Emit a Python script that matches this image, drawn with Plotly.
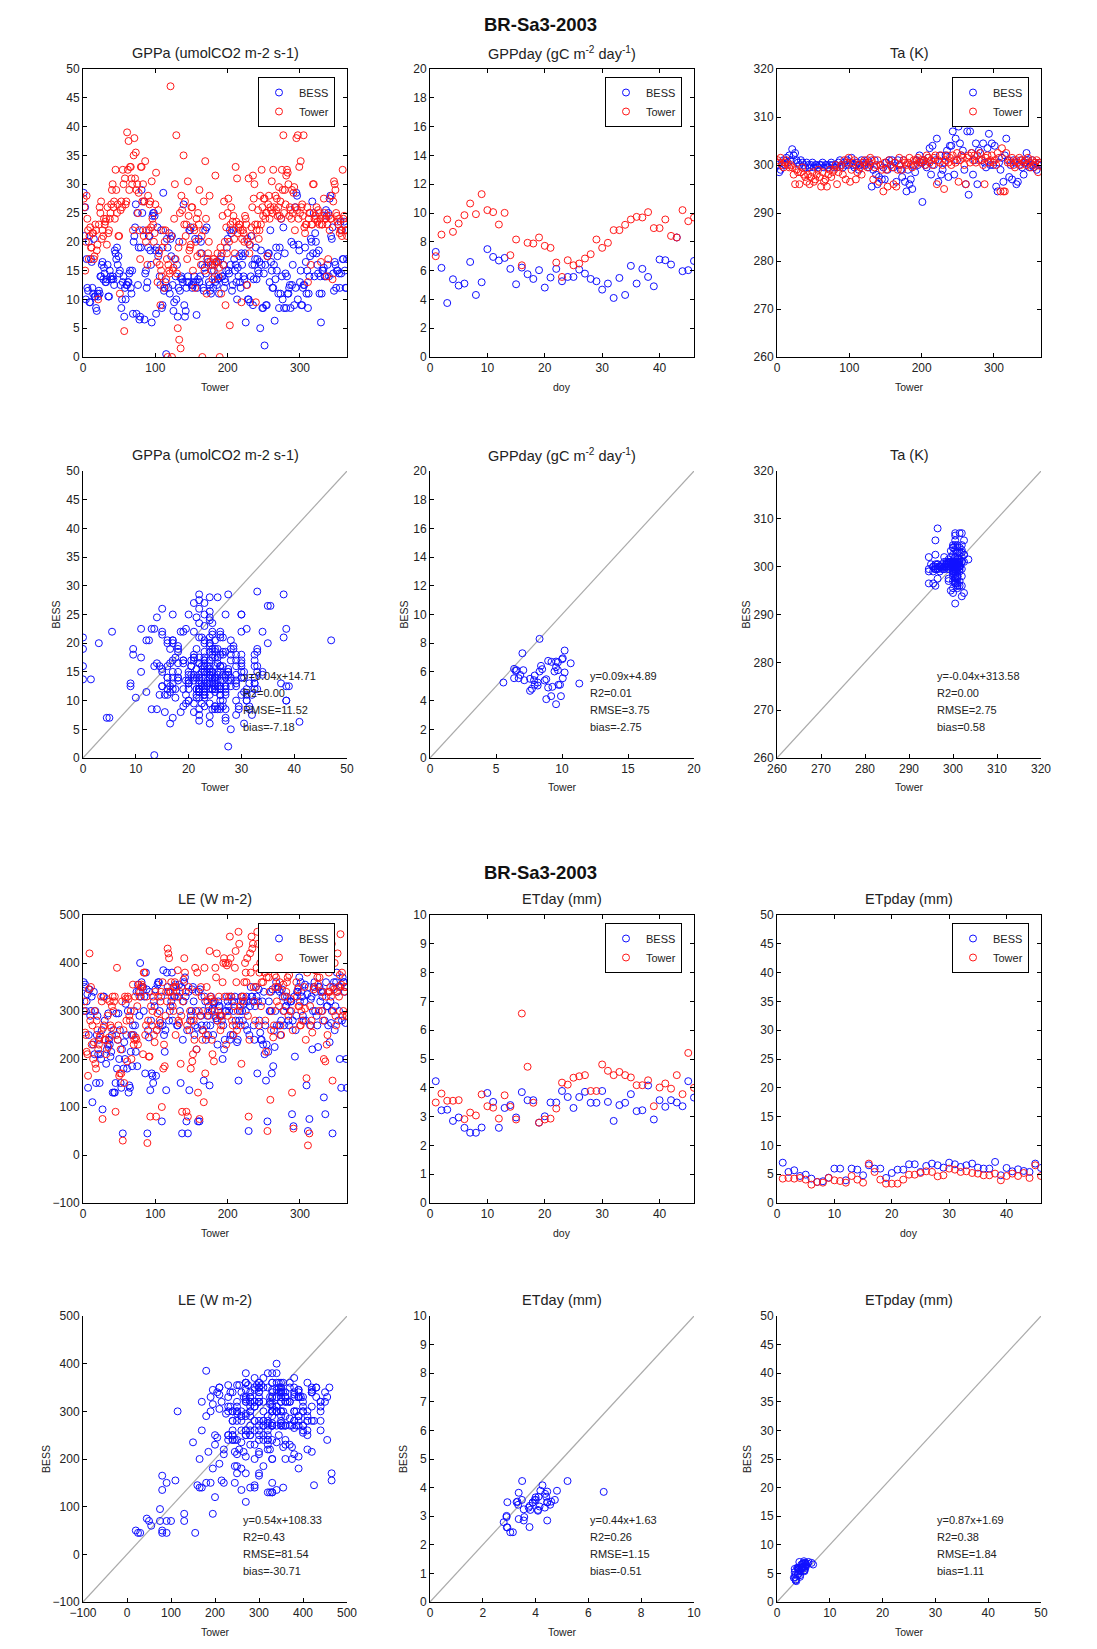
import plotly.graph_objects as go

W, H = 1097, 1649
OFF = 8  # page body margin in the browser

# ---------------- data ----------------
DAYS_ODD = list(range(1, 366, 2))
DAYS_ALL = list(range(1, 366))
DOY8 = list(range(1, 47))

GPPA_BESS_ODD = [
    28.5, 26, 17, 11.5, 9.5, 17, 12, 20.5, 10.5, 8,
    10.5, 11, 14, 16.5, 15.5, 13, 13.5, 10.5, 15, 13.5,
    14, 12.5, 18, 19, 17.5, 15, 8.5, 13, 7, 10,
    12.5, 13, 15, 11, 7.5, 21, 26.5, 25, 19, 7,
    29, 22, 6.5, 15, 13, 21, 18.5, 6, 25, 24.5,
    7.5, 22.5, 18.5, 12.5, 8.5, 28.5, 12, 0.5, 19, 21.5,
    20.5, 21, 8, 17, 10, 7, 20, 13.7, 13.5, 26.5,
    7, 12, 14, 22, 22.5, 12, 13, 20.5, 7.3, 13.5,
    13, 20, 16, 11.5, 22, 22.5, 16.5, 12.5, 11, 16,
    15, 13, 12.5, 16.5, 13.7, 17.5, 14, 12, 13, 19,
    15, 22, 21.5, 12.5, 17, 16, 10, 14, 13, 18,
    17.5, 13.5, 6, 20.5, 10, 9.5, 21, 9, 16, 19,
    17, 14.5, 5, 16, 8.5, 2, 9, 17.5, 18, 22,
    15, 12, 6.3, 19, 17.5, 8.5, 11, 14, 22.5, 18,
    8.5, 11, 12, 8.5, 12.5, 19.5, 26, 28.5, 10, 18.5,
    15, 9, 12.5, 19, 11, 8.5, 14, 20.5, 27, 25,
    21.5, 18, 14.5, 11, 6, 15, 15.5, 14, 24.5, 25,
    27.5, 21, 22.5, 11.5, 16, 15, 23, 12, 14.5, 17,
    23.5, 12, 17,
]
GPPA_BESS_EVEN = [
    21, 10, 12, 20, 9.5, 16.5, 11, 10.5, 8.5, 11,
    11.5, 14, 16, 13.5, 14.5, 13, 16, 10.5, 14, 13.5,
    13.5, 18.5, 17, 16, 14.5, 12.5, 10, 14, 12, 12.5,
    13, 14.5, 12, 15, 20, 22.5, 7.5, 12.5, 6.5, 19,
    25, 27, 14.5, 12, 19, 21, 16, 24.5, 25, 18.5,
    19, 17.5, 14, 22, 9, 11.5, 13, 20.5, 12, 11,
    17.5, 12.5, 9.5, 14, 16, 12, 11.5, 14, 13, 9,
    8, 13, 13, 22, 12.5, 12.5, 14, 13, 12, 20.5,
    14, 18, 12, 15.5, 14.5, 17, 13, 11.5, 15, 12,
    14, 16.5, 13.5, 11, 17, 14, 16, 13.5, 15, 20.5,
    14.5, 16, 11.5, 22, 15, 13, 15.5, 17.5, 12, 16,
    14, 18, 12.5, 10, 19.5, 14, 16, 13.5, 17, 13.5,
    15, 16.5, 18.5, 8.5, 14.5, 16, 9, 18, 13, 16.5,
    12, 16, 13.5, 15, 11, 19, 24, 10, 8.5, 14.5,
    14, 11, 12.5, 20, 16, 9, 12, 28, 19.5, 13,
    9, 12, 12.5, 16.5, 15, 11, 17.5, 20, 18, 14,
    20, 16, 18.5, 14, 11, 15, 14, 25.5, 16, 14,
    28, 20.5, 14.5, 16.5, 12, 15, 14.5, 23.5, 22, 17,
    15, 12,
]
GPPA_TOWER_ODD = [
    27.5, 15, 28, 22, 21, 19, 21.5, 17, 23, 18.5,
    10, 26, 27, 22, 24, 23.5, 19.5, 21.5, 24, 26.5,
    30, 27, 32.5, 25, 21, 11, 27, 32.5, 4.5, 26.5,
    39, 37.5, 33, 31, 22, 38, 35.5, 30, 28.5, 17,
    33, 30, 27, 20, 16, 22, 27, 30.5, 23, 21.5,
    32, 13, 18, 9, 14, 22, 20, 13.5, 0, 15,
    47, 0, 15.5, 30, 38.5, 5, 3, 1.5, 25.5, 35,
    27, 23, 30.5, 18.5, 19.5, 26, 22.5, 12, 24, 25,
    29, 16, 0, 27, 34, 11, 18, 28, 16, 13.5,
    17, 31.5, 16.5, 14, 0, 11, 24.5, 27, 9, 18,
    27.5, 5.5, 26, 23.5, 20.5, 33, 31, 22.5, 23, 9.5,
    22, 20, 24, 12.5, 31, 19.5, 22.5, 31.5, 30, 9.5,
    23, 20.5, 28, 32.5, 24.5, 27.5, 25, 17.5, 28, 26,
    30.5, 32.5, 41, 25.5, 24.5, 29.5, 27, 32.5, 38.5, 29,
    31.5, 32, 24.5, 25.5, 29, 28.5, 22, 38, 38.5, 33,
    34, 26.5, 38.5, 21.5, 23, 13, 25, 16, 23, 30,
    24.5, 26, 25.5, 23, 16.5, 23, 27.5, 24, 14, 17,
    22, 24, 13.5, 30.5, 29, 24.5, 23, 21.5, 22, 32.5,
    24.5, 22, 21,
]
GPPA_TOWER_EVEN = [
    26, 20, 24, 17, 22.5, 19, 21.5, 17.5, 22, 19.5,
    23, 25, 20.5, 21, 23, 24, 26, 22, 25, 29,
    26, 24, 29, 26.5, 21, 25.5, 26, 30, 31, 27,
    32.5, 29, 33, 30, 35, 31, 29, 25, 22, 33,
    27, 21, 34, 22, 28, 26.5, 22.5, 24, 20, 26.5,
    16.5, 25.5, 16, 15, 19, 12, 22, 17, 16, 14.5,
    21, 15, 24, 17, 14.5, 19, 25, 28, 20, 23,
    21, 17, 24.5, 19, 26, 15, 22, 20, 17.5, 23,
    18, 21, 22, 15, 24, 17, 20, 16.5, 15, 17,
    16, 16.5, 18, 15.5, 19, 18, 16, 20, 22.5, 25,
    20, 23, 22, 24.5, 18, 23.5, 21.5, 23, 22, 20.5,
    21.5, 24.5, 23, 20, 18, 21, 26, 27.5, 23, 22,
    25.5, 22, 23, 26, 27.5, 24, 25, 26.5, 24, 25.5,
    25, 26, 28, 27.5, 26, 24.5, 24, 29, 25, 26.5,
    32.5, 30, 26, 24, 25, 29.5, 26, 25.5, 24, 25,
    26, 24.5, 22.5, 23, 26, 24, 25, 23, 30, 24,
    24, 23.5, 25, 24, 23, 24.5, 25, 24, 23, 24.5,
    24, 28, 27, 30, 25, 23.5, 24, 22, 21, 24,
    23, 22,
]

TA_BESS = [
    300, 298.5, 299, 300.5, 301, 300, 301.5, 300.5, 302, 301,
    303.3, 302, 302.5, 301, 300.5, 300, 301, 300.5, 300, 299.5,
    300.5, 300, 299.5, 300, 300.5, 299.5, 300, 300, 299.5, 300,
    300, 300.5, 299.5, 300, 300, 299.5, 300, 300.5, 300, 299.5,
    300, 299.5, 300.5, 301, 300, 299.5, 300.5, 300, 301, 300,
    300.5, 301.5, 300, 299.5, 300, 300.5, 299, 300, 301, 300.5,
    300, 300.5, 301, 299.5, 300, 295.5, 299, 301, 298, 296,
    297.5, 300, 297, 299.5, 297, 300.5, 299, 301, 300, 301,
    299.5, 300.5, 296.5, 301, 300, 299, 297.5, 301, 296.5, 294.5,
    299, 296, 297, 295, 300, 298.5, 301, 300, 302, 300.5,
    292.3, 301, 300, 299.5, 301.5, 303.5, 298, 304, 300, 301,
    305.5, 296.5, 302, 298, 299, 300.5, 302, 303, 297.5, 304,
    304, 307, 298, 305.5, 301, 308, 304.5, 302, 303, 299,
    296, 307, 293.8, 307, 302.5, 298, 301, 304.5, 296, 303,
    302.5, 301, 304.5, 300.5, 299.5, 303.5, 306.5, 300, 304.5, 300,
    304, 295.5, 294.5, 300.5, 299, 301.5, 296.5, 302, 305.5, 301,
    297.5, 300, 297, 301, 300.5, 296, 296.5, 300, 301, 299.5,
    298, 300.5, 302.5, 301, 299.5, 300, 301, 299.5, 300.5, 299,
    300, 300.5, 300,
]
TA_TOWER = [
    301, 300.5, 301.5, 300, 299.5, 300.5, 301, 300, 299.5, 300,
    299.5, 298, 296, 299, 298.5, 296, 298.5, 299.5, 298, 297.5,
    296.5, 298, 296, 297.5, 298.5, 296.5, 297, 298, 299, 297.5,
    295.5, 298.5, 296.5, 297, 295.5, 298, 299, 297.5, 298.5, 299,
    300, 296, 298.5, 299.5, 300, 298, 301, 297, 300.5, 301.5,
    296.5, 299, 300.5, 301, 297, 298.5, 300, 299.5, 298, 300.5,
    301, 300, 299.5, 300.5, 301.5, 301, 297, 299.5, 300, 301,
    296.5, 300, 299, 294.5, 300.5, 299, 295.5, 301, 300, 299.5,
    296, 300.5, 295.5, 299, 301.5, 300, 299, 301, 300.5, 300,
    300.5, 301.5, 300, 299.5, 301, 300, 301, 301.5, 300.5, 301,
    300.5, 301, 300, 302, 301.5, 300.5, 301, 300, 301.5, 302,
    296, 301, 300.5, 302, 300, 295, 301, 302, 300.5, 301.5,
    300, 302, 301, 300.5, 302.5, 296.5, 301, 302, 301.5, 300,
    296, 301.5, 302, 300.5, 302.5, 301, 302, 300.5, 302, 301,
    302.5, 301, 300, 296, 301.5, 302, 300.5, 301, 302, 300.5,
    301, 300, 302.5, 301.5, 294.5, 303.5, 294.5, 294.5, 302.5, 300.5,
    301, 300.5, 301.5, 300, 299.5, 301, 300.5, 301.5, 300, 301,
    300.5, 301, 300, 301.5, 300.5, 299.5, 301, 300, 300.5, 301,
    298.5, 300.5, 300,
]

LE_BESS_ODD = [
    360, 355, 320, 140, 345, 300, 110, 340, 300, 250,
    210, 150, 200, 95, 330, 240, 220, 295, 230, 215,
    130, 130, 150, 180, 295, 260, 140, 45, 235, 315,
    180, 130, 140, 250, 270, 300, 215, 185, 340, 400,
    360, 350, 330, 380, 45, 245, 135, 170, 150, 310,
    165, 355, 360, 275, 70, 385, 215, 135, 350, 280,
    310, 380, 350, 330, 340, 270, 355, 150, 45, 320,
    370, 70, 45, 135, 290, 345, 320, 270, 220, 70,
    70, 290, 260, 155, 320, 270, 250, 145, 330, 305,
    315, 290, 280, 320, 310, 290, 200, 220, 300, 330,
    310, 240, 330, 250, 320, 280, 235, 155, 300, 330,
    280, 320, 300, 260, 50, 310, 330, 320, 240, 350,
    170, 345, 255, 240, 230, 210, 155, 70, 320, 300,
    170, 185, 225, 360, 345, 270, 250, 345, 300, 330,
    310, 320, 270, 320, 85, 60, 205, 290, 340, 370,
    360, 330, 280, 355, 145, 50, 75, 325, 220, 350,
    300, 290, 225, 350, 340, 330, 120, 85, 310, 270,
    235, 275, 45, 360, 310, 380, 280, 200, 140, 370,
    360, 275, 140,
]
LE_BESS_EVEN = [
    350, 300, 335, 250, 290, 330, 230, 210, 150, 290,
    240, 210, 260, 330, 280, 190, 230, 240, 205, 250,
    260, 130, 295, 240, 200, 150, 220, 180, 200, 250,
    300, 145, 215, 185, 250, 270, 340, 355, 290, 330,
    350, 300, 170, 345, 260, 340, 280, 165, 320, 345,
    260, 360, 300, 330, 270, 250, 260, 380, 340, 300,
    320, 280, 330, 355, 270, 330, 300, 350, 240, 360,
    330, 260, 340, 280, 300, 350, 250, 300, 265, 340,
    345, 270, 300, 330, 240, 290, 310, 270, 300, 250,
    320, 285, 230, 310, 290, 280, 270, 240, 300, 320,
    300, 250, 320, 300, 330, 270, 240, 280, 320, 300,
    315, 270, 330, 320, 250, 350, 330, 270, 310, 330,
    320, 280, 240, 320, 340, 270, 230, 215, 300, 340,
    345, 260, 300, 270, 350, 340, 280, 330, 270, 310,
    330, 280, 300, 320, 280, 330, 260, 340, 350, 320,
    340, 290, 320, 280, 335, 350, 270, 330, 300, 360,
    340, 270, 350, 320, 300, 340, 280, 360, 310, 340,
    320, 300, 350, 260, 360, 340, 300, 350, 280, 360,
    340, 200,
]
LE_TOWER_ODD = [
    300, 255, 215, 165, 420, 350, 270, 235, 190, 280,
    220, 245, 330, 75, 270, 240, 325, 225, 320, 265,
    330, 320, 90, 390, 270, 170, 170, 30, 150, 325,
    195, 325, 280, 200, 355, 240, 245, 310, 355, 340,
    355, 210, 380, 270, 25, 205, 80, 270, 330, 235,
    80, 295, 270, 320, 100, 180, 185, 340, 430, 410,
    340, 330, 300, 360, 350, 385, 275, 190, 90, 365,
    380, 90, 80, 260, 180, 195, 280, 390, 220, 130,
    75, 350, 240, 110, 170, 350, 300, 425, 325, 210,
    195, 390, 420, 300, 290, 270, 360, 410, 400, 395,
    400, 455, 330, 270, 310, 425, 260, 465, 310, 190,
    320, 360, 380, 410, 80, 420, 455, 440, 320, 350,
    465, 270, 400, 360, 360, 380, 215, 50, 370, 115,
    300, 245, 375, 370, 350, 310, 270, 390, 355, 330,
    340, 370, 375, 325, 130, 55, 390, 360, 345, 310,
    270, 280, 390, 305, 160, 20, 45, 270, 255, 345,
    385, 390, 355, 370, 390, 300, 200, 195, 230, 340,
    340, 330, 155, 345, 290, 340, 350, 375, 355, 290,
    340, 350, 290,
]
LE_TOWER_EVEN = [
    320, 250, 210, 345, 280, 230, 200, 300, 180, 260,
    230, 250, 320, 265, 240, 210, 290, 245, 270, 310,
    300, 330, 250, 240, 165, 220, 320, 260, 330, 280,
    330, 290, 300, 250, 230, 330, 240, 230, 330, 350,
    350, 380, 250, 330, 280, 205, 310, 300, 250, 340,
    260, 330, 280, 340, 360, 230, 290, 320, 420, 340,
    360, 310, 350, 250, 330, 280, 340, 290, 320, 410,
    340, 270, 350, 300, 280, 210, 240, 340, 380, 300,
    290, 330, 260, 390, 250, 320, 290, 330, 240, 320,
    300, 370, 280, 330, 260, 290, 400, 330, 230, 290,
    330, 410, 280, 250, 390, 360, 300, 440, 270, 330,
    330, 400, 360, 290, 240, 380, 430, 350, 280, 390,
    440, 380, 310, 400, 450, 280, 370, 420, 340, 260,
    390, 270, 350, 320, 420, 360, 250, 400, 300, 440,
    360, 290, 410, 300, 260, 390, 440, 330, 310, 270,
    300, 410, 350, 240, 380, 430, 310, 280, 400, 350,
    420, 370, 300, 450, 340, 280, 410, 330, 250, 380,
    350, 440, 300, 400, 270, 420, 330, 460, 380, 300,
    350, 290,
]

GPPD_BESS = [7.3, 6.19, 3.75, 5.4, 4.96, 5.1, 6.6, 4.31, 5.19, 7.49,
             6.95, 6.7, 6.88, 6.12, 5.05, 6.21, 5.75, 5.42, 6.03, 4.82,
             5.52, 6.12, 5.26, 5.56, 5.56, 6.07, 5.79, 5.42, 5.26, 4.68,
             5.1, 4.1, 5.49, 4.31, 6.33, 5.1, 6.12, 5.56, 4.91, 6.77,
             6.72, 6.42, 8.3, 5.96, 6.03, 6.67]
GPPD_TOWER = [7.0, 8.5, 9.55, 8.69, 9.27, 9.85, 10.66, 9.92, 11.31, 10.2,
              10.06, 9.2, 10.01, 7.07, 8.16, 6.37, 7.93, 7.88, 8.3, 7.72,
              7.58, 6.56, 5.56, 6.72, 6.37, 6.49, 6.84, 7.14, 8.16, 7.58,
              7.93, 8.81, 8.81, 9.18, 9.55, 9.73, 9.69, 10.06, 8.95, 8.95,
              9.55, 8.41, 8.3, 10.2, 9.43, 9.69]

ET_BESS = [4.23, 3.22, 3.24, 2.85, 2.97, 2.61, 2.44, 2.44, 2.62, 3.82,
           3.51, 2.61, 3.3, 3.4, 2.97, 3.85, 3.57, 3.57, 2.79, 3.01,
           3.49, 3.49, 3.89, 3.68, 3.3, 3.68, 3.86, 3.48, 3.48, 3.89,
           3.51, 2.85, 3.4, 3.48, 3.78, 3.19, 3.22, 4.08, 2.9, 3.57,
           3.34, 3.57, 3.49, 3.36, 4.23, 3.66]
ET_TOWER = [3.49, 3.8, 3.55, 3.55, 3.57, 2.91, 3.14, 3.04, 3.77, 3.36,
            3.31, 2.93, 3.74, 3.34, 2.9, 6.58, 4.73, 3.48, 2.79, 2.9,
            2.93, 3.28, 4.18, 4.11, 4.35, 4.4, 4.44, 3.89, 3.89, 4.81,
            4.59, 4.44, 4.55, 4.44, 4.36, 4.09, 4.09, 4.26, 3.36, 4.01,
            4.15, 3.97, 4.44, 3.78, 5.21, 4.0]

ETP_BESS = [7.0, 5.39, 5.68, 4.69, 4.92, 4.23, 3.65, 3.77, 4.4, 5.97,
            5.97, 3.94, 5.97, 5.79, 4.81, 6.55, 5.97, 5.97, 4.35, 5.21,
            5.79, 5.79, 6.72, 6.72, 5.39, 6.43, 6.84, 6.55, 6.14, 7.0,
            6.72, 6.26, 6.55, 6.84, 6.14, 5.97, 5.97, 7.13, 4.81, 6.08,
            5.5, 5.85, 5.56, 5.39, 6.84, 6.08]
ETP_TOWER = [4.23, 4.35, 4.23, 4.35, 4.06, 3.19, 3.65, 3.53, 4.35, 3.94,
             3.82, 3.53, 4.69, 4.06, 3.53, 6.84, 5.39, 4.06, 3.36, 3.36,
             3.36, 4.06, 4.92, 4.92, 5.21, 5.5, 5.39, 4.63, 4.81, 5.97,
             5.79, 5.39, 5.5, 5.21, 5.1, 4.81, 4.81, 5.1, 3.94, 4.69,
             5.1, 4.69, 5.21, 4.35, 6.55, 4.69]

SUPTITLE = "BR-Sa3-2003"
TITLES = ["GPPa (umolCO2 m-2 s-1)",
          "GPPday (gC m<sup>-2</sup> day<sup>-1</sup>)",
          "Ta (K)",
          "LE (W m-2)",
          "ETday (mm)",
          "ETpday (mm)"]
STATS = [
    ["y=0.04x+14.71", "R2=0.00", "RMSE=11.52", "bias=-7.18"],
    ["y=0.09x+4.89", "R2=0.01", "RMSE=3.75", "bias=-2.75"],
    ["y=-0.04x+313.58", "R2=0.00", "RMSE=2.75", "bias=0.58"],
    ["y=0.54x+108.33", "R2=0.43", "RMSE=81.54", "bias=-30.71"],
    ["y=0.44x+1.63", "R2=0.26", "RMSE=1.15", "bias=-0.51"],
    ["y=0.87x+1.69", "R2=0.38", "RMSE=1.84", "bias=1.11"],
]


def interleave(odd, even):
    out = []
    for i, v in enumerate(odd):
        out.append(v)
        if i < len(even):
            out.append(even[i])
    return out


GPPA_BESS = interleave(GPPA_BESS_ODD, GPPA_BESS_EVEN)
GPPA_TOWER = interleave(GPPA_TOWER_ODD, GPPA_TOWER_EVEN)
LE_BESS = interleave(LE_BESS_ODD, LE_BESS_EVEN)
LE_TOWER = interleave(LE_TOWER_ODD, LE_TOWER_EVEN)

# ---------------- layout helpers ----------------
COLS = [(83, 347), (430, 694), (777, 1041)]
ROWS = [(69, 357), (471, 758), (915, 1203), (1316, 1602)]
TITLE_Y = [53, 455, 899, 1300]
XLAB_Y = [387, 787, 1233, 1632]
YLAB_X = [[55, 403, 745], [46, 403, 747]]
SUP_Y = [25, 872]


def PX(p):
    return (p - OFF) / W


def PY(p):
    return 1 - (p - OFF) / H


BLUE = "#1010ff"
RED = "#ff1818"
FONT = "Liberation Sans, Arial, Helvetica, sans-serif"

SETS = [
    (0, 0, DAYS_ALL, GPPA_BESS, GPPA_TOWER, [0, 365], [0, 50], 100, 5, "Tower", [0, 50], 10, 5),
    (0, 1, DOY8, GPPD_BESS, GPPD_TOWER, [0, 46], [0, 20], 10, 2, "doy", [0, 20], 5, 2),
    (0, 2, DAYS_ODD, TA_BESS, TA_TOWER, [0, 365], [260, 320], 100, 10, "Tower", [260, 320], 10, 10),
    (1, 0, DAYS_ALL, LE_BESS, LE_TOWER, [0, 365], [-100, 500], 100, 100, "Tower", [-100, 500], 100, 100),
    (1, 1, DOY8, ET_BESS, ET_TOWER, [0, 46], [0, 10], 10, 1, "doy", [0, 10], 2, 1),
    (1, 2, DOY8, ETP_BESS, ETP_TOWER, [0, 46], [0, 50], 10, 5, "doy", [0, 50], 10, 5),
]

fig = go.Figure()
layout = {}
annotations = []
n = 0


def axis_names(k):
    return ("x" if k == 1 else f"x{k}", "y" if k == 1 else f"y{k}",
            "xaxis" if k == 1 else f"xaxis{k}", "yaxis" if k == 1 else f"yaxis{k}")


def base_axis(box):
    return dict(showgrid=False, zeroline=False, showline=True, linecolor="black",
                linewidth=1, ticks="inside", ticklen=4, tickcolor="black",
                mirror="ticks" if box else False, automargin=False,
                tickfont=dict(family=FONT, size=12, color="#222"))


for si, (grp, col, xd, bess, tower, txr, tyr, txd, tyd, txl, scr, scxd, scyd) in enumerate(SETS):
    c0, c1 = COLS[col]
    cx = (c0 + c1) / 2
    # ---- time series panel ----
    row = grp * 2
    n += 1
    xa, ya, xk, yk = axis_names(n)
    r0, r1 = ROWS[row]
    layout[xk] = dict(domain=[PX(c0), PX(c1)], range=txr, dtick=txd, tick0=0, anchor=ya, **base_axis(True))
    layout[yk] = dict(domain=[PY(r1), PY(r0)], range=tyr, dtick=tyd, tick0=0, anchor=xa, **base_axis(True))
    leg = "legend" if si == 0 else f"legend{si + 1}"
    for name, vals, color in (("BESS", bess, BLUE), ("Tower", tower, RED)):
        fig.add_trace(go.Scatter(
            x=xd[:len(vals)], y=vals, mode="markers", name=name, xaxis=xa, yaxis=ya,
            legend=leg,
            marker=dict(symbol="circle-open", size=7, color=color, line=dict(width=1, color=color))))
    layout[leg] = dict(x=PX(c1 - 12), y=PY(r0 + 8), xanchor="right", yanchor="top",
                       bgcolor="white", bordercolor="black", borderwidth=1,
                       font=dict(family=FONT, size=11, color="#222"),
                       tracegroupgap=0, itemwidth=30)
    annotations.append(dict(text=TITLES[si], x=PX(cx), y=PY(TITLE_Y[row]), xref="paper", yref="paper",
                            showarrow=False, xanchor="center", yanchor="middle",
                            font=dict(family=FONT, size=14.5, color="#222")))
    annotations.append(dict(text=txl, x=PX(cx), y=PY(XLAB_Y[row]), xref="paper", yref="paper",
                            showarrow=False, xanchor="center", yanchor="middle",
                            font=dict(family=FONT, size=10.5, color="#222")))

    # ---- scatter panel ----
    row = grp * 2 + 1
    n += 1
    xa, ya, xk, yk = axis_names(n)
    r0, r1 = ROWS[row]
    layout[xk] = dict(domain=[PX(c0), PX(c1)], range=scr, dtick=scxd, tick0=0, anchor=ya, **base_axis(False))
    layout[yk] = dict(domain=[PY(r1), PY(r0)], range=scr, dtick=scyd, tick0=0, anchor=xa, **base_axis(False))
    fig.add_trace(go.Scatter(x=scr, y=scr, mode="lines", showlegend=False, xaxis=xa, yaxis=ya,
                             line=dict(color="#ababab", width=1.2)))
    m = min(len(bess), len(tower))
    fig.add_trace(go.Scatter(x=tower[:m], y=bess[:m], mode="markers", showlegend=False, xaxis=xa, yaxis=ya,
                             marker=dict(symbol="circle-open", size=7, color=BLUE, line=dict(width=1, color=BLUE))))
    annotations.append(dict(text=TITLES[si], x=PX(cx), y=PY(TITLE_Y[row]), xref="paper", yref="paper",
                            showarrow=False, xanchor="center", yanchor="middle",
                            font=dict(family=FONT, size=14.5, color="#222")))
    annotations.append(dict(text="Tower", x=PX(cx), y=PY(XLAB_Y[row]), xref="paper", yref="paper",
                            showarrow=False, xanchor="center", yanchor="middle",
                            font=dict(family=FONT, size=10.5, color="#222")))
    annotations.append(dict(text="BESS", x=PX(YLAB_X[grp][col]), y=PY((r0 + r1) / 2), xref="paper", yref="paper",
                            showarrow=False, textangle=-90, xanchor="center", yanchor="middle",
                            font=dict(family=FONT, size=10.5, color="#222")))
    for txt, fy in zip(STATS[si], [0.285, 0.226, 0.167, 0.108]):
        annotations.append(dict(text=txt, x=0.6, y=fy, xref=f"{xa} domain", yref=f"{ya} domain",
                                showarrow=False, xanchor="left", yanchor="middle",
                                font=dict(family=FONT, size=11, color="#222")))

for sy in SUP_Y:
    annotations.append(dict(text=f"<b>{SUPTITLE}</b>", x=PX(540), y=PY(sy), xref="paper", yref="paper",
                            showarrow=False, xanchor="center", yanchor="middle",
                            font=dict(family=FONT, size=18.5, color="#111")))

fig.update_layout(**layout)
fig.update_layout(template="none", width=W, height=H,
                  margin=dict(l=0, r=0, t=0, b=0, autoexpand=False),
                  paper_bgcolor="white", plot_bgcolor="white",
                  annotations=annotations, showlegend=True)

fig.write_html("out.html")
